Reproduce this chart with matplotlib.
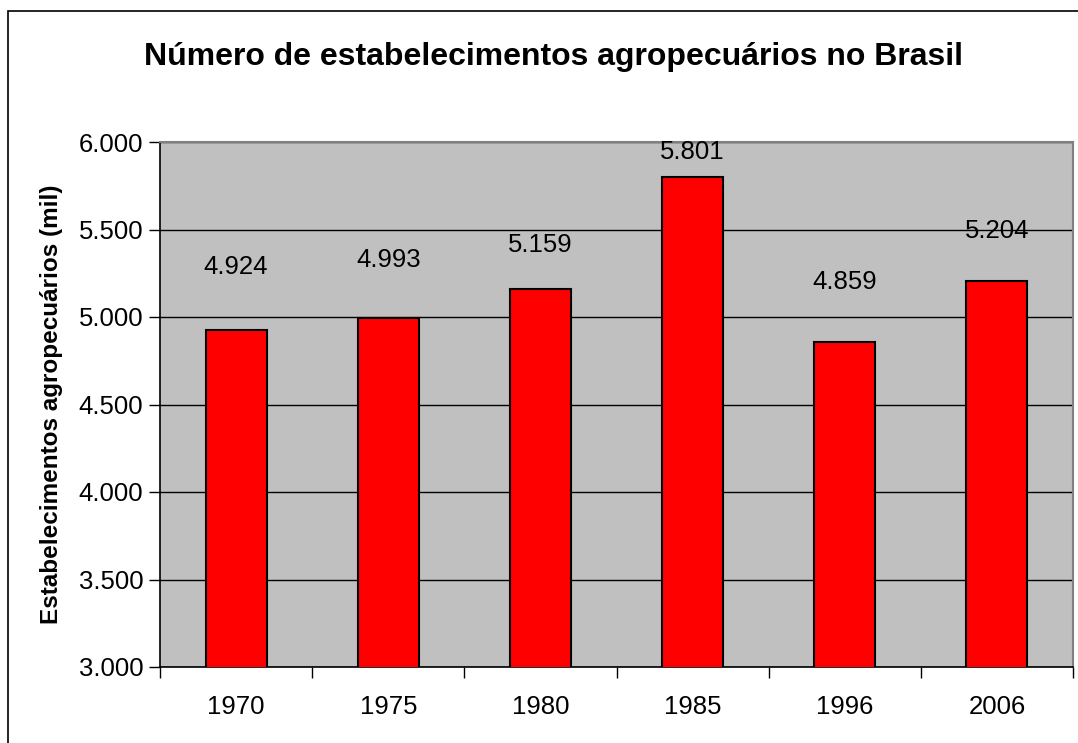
import matplotlib
matplotlib.use("Agg")
import matplotlib.pyplot as plt
from matplotlib.patches import Rectangle
from matplotlib.ticker import FuncFormatter, FixedLocator

years = ["1970", "1975", "1980", "1985", "1996", "2006"]
values = [4924, 4993, 5159, 5801, 4859, 5204]
value_labels = ["4.924", "4.993", "5.159", "5.801", "4.859", "5.204"]
title = "Número de estabelecimentos agropecuários no Brasil"
ylabel = "Estabelecimentos agropecuários (mil)"

# label offsets above bar tops (pixels) to mimic manually placed labels
label_offsets_px = [63, 58, 44, 25, 60, 50]

plt.rcParams['font.family'] = ['Liberation Sans', 'DejaVu Sans']

W, H = 1078, 743
fig = plt.figure(figsize=(W / 100, H / 100), dpi=100)
fig.patch.set_facecolor("white")

# outer chart border
fig.patches.append(Rectangle((8 / W, -0.1), 1.2, 1 - 11 / H + 0.1,
                             transform=fig.transFigure, fill=False,
                             edgecolor="black", linewidth=1.2, zorder=0))

ax = fig.add_axes([160 / W, 1 - 667 / H, (1073 - 160) / W, (667 - 142) / H])
ax.set_facecolor("#c0c0c0")

x = list(range(len(years)))
ax.bar(x, values, width=0.4, color="#ff0000", edgecolor="black",
       linewidth=1.5, zorder=3)

ax.set_xlim(-0.5, len(years) - 0.5)
ax.set_ylim(3000, 6000)
ax.set_yticks([3000, 3500, 4000, 4500, 5000, 5500, 6000])
ax.yaxis.set_major_formatter(FuncFormatter(lambda v, p: f"{int(v):,}".replace(",", ".")))
ax.grid(axis="y", color="black", linewidth=1.0, zorder=1)
ax.set_axisbelow(True)

ax.set_xticks(x)
ax.set_xticklabels(years)
ax.xaxis.set_minor_locator(FixedLocator([i - 0.5 for i in range(len(years) + 1)]))
ax.tick_params(axis="x", which="major", length=0, pad=20, labelsize=18.5)
ax.tick_params(axis="x", which="minor", length=8, width=1, color="black", direction="out")
ax.tick_params(axis="y", length=8, width=1, color="black", direction="out",
               labelsize=18.5, pad=4)

for s in ["left", "bottom"]:
    ax.spines[s].set_color("black")
    ax.spines[s].set_linewidth(1.2)
for s in ["top", "right"]:
    ax.spines[s].set_color("#808080")
    ax.spines[s].set_linewidth(1.5)

for xi, v, lab, off in zip(x, values, value_labels, label_offsets_px):
    ax.annotate(lab, (xi, v), xytext=(0, off * 0.72), textcoords="offset points",
                ha="center", va="center", fontsize=18.5, color="black")

ax.set_ylabel(ylabel, fontsize=17.5, fontweight="bold")
ax.yaxis.set_label_coords(-97 / (1073 - 160), 0.5)

fig.text(553 / W, 1 - 57 / H, title, ha="center", va="center",
         fontsize=23, fontweight="bold")

fig.savefig("out.png", dpi=100)
